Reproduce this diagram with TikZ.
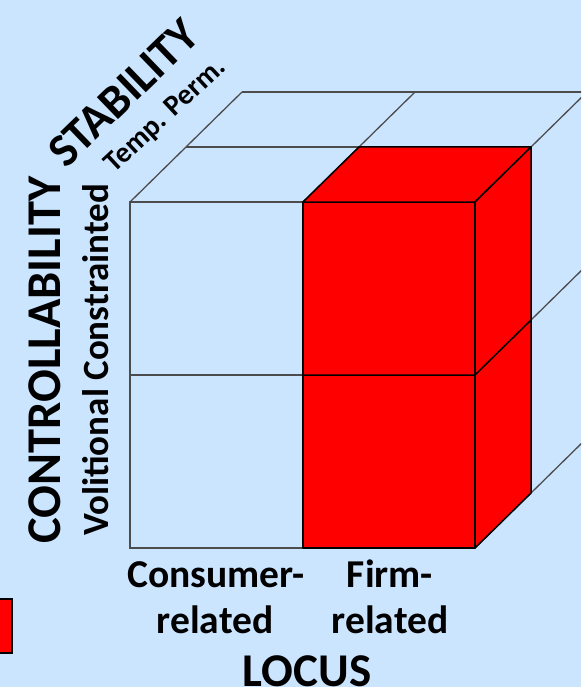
\documentclass[tikz,border=0pt]{standalone}
\usepackage{fontspec}
\usetikzlibrary{calc}
\setmainfont{Carlito}
\definecolor{bgblue}{RGB}{204,229,255}
\definecolor{cubered}{RGB}{255,0,0}
\tikzset{
  gridline/.style={draw=black!70, line width=1.3pt},
  rededge/.style={draw=black, line width=1.5pt, line join=round},
  redface/.style={fill=cubered, rededge},
  lbl/.style={inner sep=0pt, anchor=base, text=black},
}
\begin{document}
\begin{tikzpicture}[x=1pt,y=-1pt]
\fill[bgblue] (0,0) rectangle (581,687);
\useasboundingbox (0,0) rectangle (581,687);
\clip (0,0) rectangle (581,687);
% corners of the front face
\coordinate (f00) at (130,202);
\coordinate (f10) at (303,202);
\coordinate (f20) at (475,202);
\coordinate (f01) at (130,375);
\coordinate (f11) at (303,375);
\coordinate (f21) at (475,375);
\coordinate (f02) at (130,548);
\coordinate (f12) at (303,548);
\coordinate (f22) at (475,548);
% depth vector
\def\dx{56}\def\dy{-55}
% white cells of the front face
\draw[gridline] (f00) rectangle (f12);
\draw[gridline] (f01) -- (f11);
% top face
\draw[gridline] (f00) -- ++(2*\dx,2*\dy);
\draw[gridline] (f10) -- ++(2*\dx,2*\dy);
\draw[gridline] (f20) -- ++(2*\dx,2*\dy);
\draw[gridline] ($(f00)+(\dx,\dy)$) -- ($(f20)+(\dx,\dy)$);
\draw[gridline] ($(f00)+(2*\dx,2*\dy)$) -- ($(f20)+(2*\dx,2*\dy)$);
% right face
\draw[gridline] (f21) -- ++(2*\dx,2*\dy);
\draw[gridline] (f22) -- ++(2*\dx,2*\dy);
\draw[gridline] ($(f20)+(2*\dx,2*\dy)$) -- ($(f22)+(2*\dx,2*\dy)$);
% red block
\coordinate (r1) at ($(f10)+(\dx,\dy)$);
\coordinate (r2) at ($(f20)+(\dx,\dy)$);
\coordinate (r3) at ($(f22)+(\dx,\dy)$);
\coordinate (r4) at ($(f21)+(\dx,\dy)$);
\filldraw[redface] (f10) rectangle (f22);
\filldraw[redface] (f10) -- (r1) -- (r2) -- (f20) -- cycle;
\filldraw[redface] (f20) -- (r2) -- (r3) -- (f22) -- cycle;
\draw[rededge] (f11) -- (f21) -- (r4);
% partial red box at lower left
\filldraw[fill=cubered, draw=black, line width=1.2pt] (-5,599) rectangle (12,653);
% labels
\node[lbl, font=\bfseries\fontsize{48.5}{48.5}\selectfont, rotate=90] (ctrl) at (60,360) {CONTROLLABILITY};
\node[lbl, font=\bfseries\fontsize{37}{37}\selectfont, rotate=90] (volcon) at (108,360) {Volitional Constrainted};
\node[lbl, font=\bfseries\fontsize{47}{47}\selectfont, rotate=44] (stab) at (134,104) {STABILITY};
\node[lbl, font=\bfseries\fontsize{29}{29}\selectfont, rotate=43] (tp) at (171,121) {Temp. Perm.};
\node[lbl, font=\bfseries\fontsize{39.5}{39.5}\selectfont] (cons1) at (216,587) {Consumer-};
\node[lbl, font=\bfseries\fontsize{39.5}{39.5}\selectfont] (cons2) at (215,633) {related};
\node[lbl, font=\bfseries\fontsize{39.5}{39.5}\selectfont] (firm1) at (390,587) {Firm-};
\node[lbl, font=\bfseries\fontsize{39.5}{39.5}\selectfont] (firm2) at (390,633) {related};
\node[lbl, font=\bfseries\fontsize{47}{47}\selectfont] (locus) at (307,686) {LOCUS};
\end{tikzpicture}
\end{document}
